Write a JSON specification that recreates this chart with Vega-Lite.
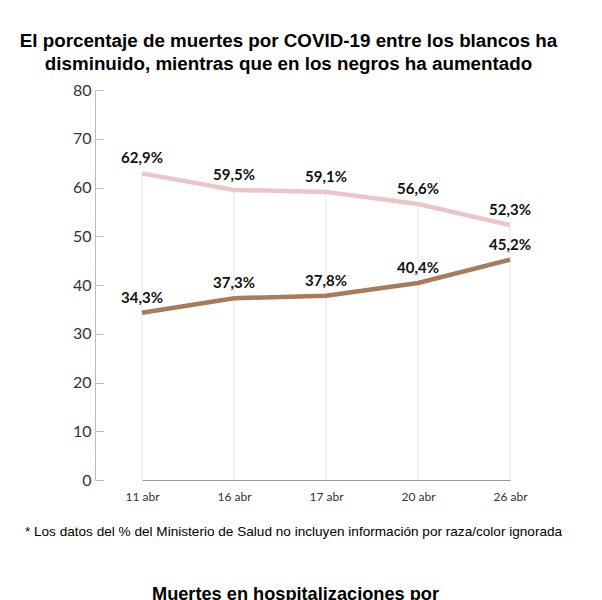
{
  "$schema": "https://vega.github.io/schema/vega-lite/v6.json",
  "width": 415,
  "height": 390,
  "autosize": {"type": "none"},
  "padding": {"left": 95, "top": 90, "right": 92, "bottom": 120},
  "config": {
    "view": {"stroke": null},
    "font": "Lato",
    "locale": {"number": {"decimal": ",", "thousands": ".", "grouping": [3], "currency": ["", "%"]}}
  },
  "title": {
    "text": ["El porcentaje de muertes por COVID-19 entre los blancos ha", "disminuido, mientras que en los negros ha aumentado"],
    "font": "Liberation Sans",
    "fontSize": 18.8,
    "fontWeight": "bold",
    "color": "#000000",
    "lineHeight": 23.5,
    "anchor": "middle",
    "dx": -14,
    "offset": 8
  },
  "data": {
    "values": [
      {"fecha": "11 abr", "grupo": "Blancos", "valor": 62.9},
      {"fecha": "16 abr", "grupo": "Blancos", "valor": 59.5},
      {"fecha": "17 abr", "grupo": "Blancos", "valor": 59.1},
      {"fecha": "20 abr", "grupo": "Blancos", "valor": 56.6},
      {"fecha": "26 abr", "grupo": "Blancos", "valor": 52.3},
      {"fecha": "11 abr", "grupo": "Negros", "valor": 34.3},
      {"fecha": "16 abr", "grupo": "Negros", "valor": 37.3},
      {"fecha": "17 abr", "grupo": "Negros", "valor": 37.8},
      {"fecha": "20 abr", "grupo": "Negros", "valor": 40.4},
      {"fecha": "26 abr", "grupo": "Negros", "valor": 45.2}
    ]
  },
  "encoding": {
    "x": {
      "field": "fecha",
      "type": "ordinal",
      "scale": {"type": "point", "domain": ["11 abr", "16 abr", "17 abr", "20 abr", "26 abr"], "range": [47, 415], "padding": 0},
      "axis": {
        "title": "* Los datos del % del Ministerio de Salud no incluyen información por raza/color ignorada",
        "titleFont": "Liberation Sans",
        "titleFontSize": 13.6,
        "titleFontWeight": "normal",
        "titleColor": "#000000",
        "titleX": 198,
        "titleY": 55,
        "titleAlign": "center",
        "titleBaseline": "alphabetic",
        "labelAngle": 0,
        "ticks": false,
        "labelPadding": 11,
        "labelFontSize": 12,
        "labelColor": "#333333",
        "domainColor": "#999999",
        "grid": false
      }
    },
    "y": {
      "field": "valor",
      "type": "quantitative",
      "scale": {"domain": [0, 80], "nice": false},
      "axis": {
        "title": "Muertes en hospitalizaciones por",
        "titleAngle": 0,
        "titleX": 200,
        "titleY": 509,
        "titleAlign": "center",
        "titleBaseline": "alphabetic",
        "titleFont": "Liberation Sans",
        "titleFontSize": 18.2,
        "titleFontWeight": "bold",
        "titleColor": "#000000",
        "values": [0, 10, 20, 30, 40, 50, 60, 70, 80],
        "grid": false,
        "tickSize": -8,
        "tickColor": "#bbbbbb",
        "domainColor": "#bbbbbb",
        "labelFontSize": 16,
        "labelColor": "#333333",
        "labelPadding": 12
      }
    }
  },
  "layer": [
    {
      "transform": [{"filter": "datum.grupo === 'Blancos'"}],
      "mark": {"type": "rule", "color": "#e3e3e3", "strokeWidth": 1},
      "encoding": {"y2": {"datum": 0}}
    },
    {
      "mark": {"type": "line", "strokeWidth": 4.5},
      "encoding": {
        "color": {
          "field": "grupo",
          "type": "nominal",
          "scale": {"domain": ["Blancos", "Negros"], "range": ["#ecc6c6", "#a87b5b"]},
          "legend": null
        }
      }
    },
    {
      "mark": {"type": "text", "dy": -10, "baseline": "alphabetic", "fontWeight": "bold", "fontSize": 15, "font": "Lato", "color": "#111111"},
      "encoding": {
        "text": {"field": "valor", "type": "quantitative", "format": "$.1f"}
      }
    }
  ]
}
